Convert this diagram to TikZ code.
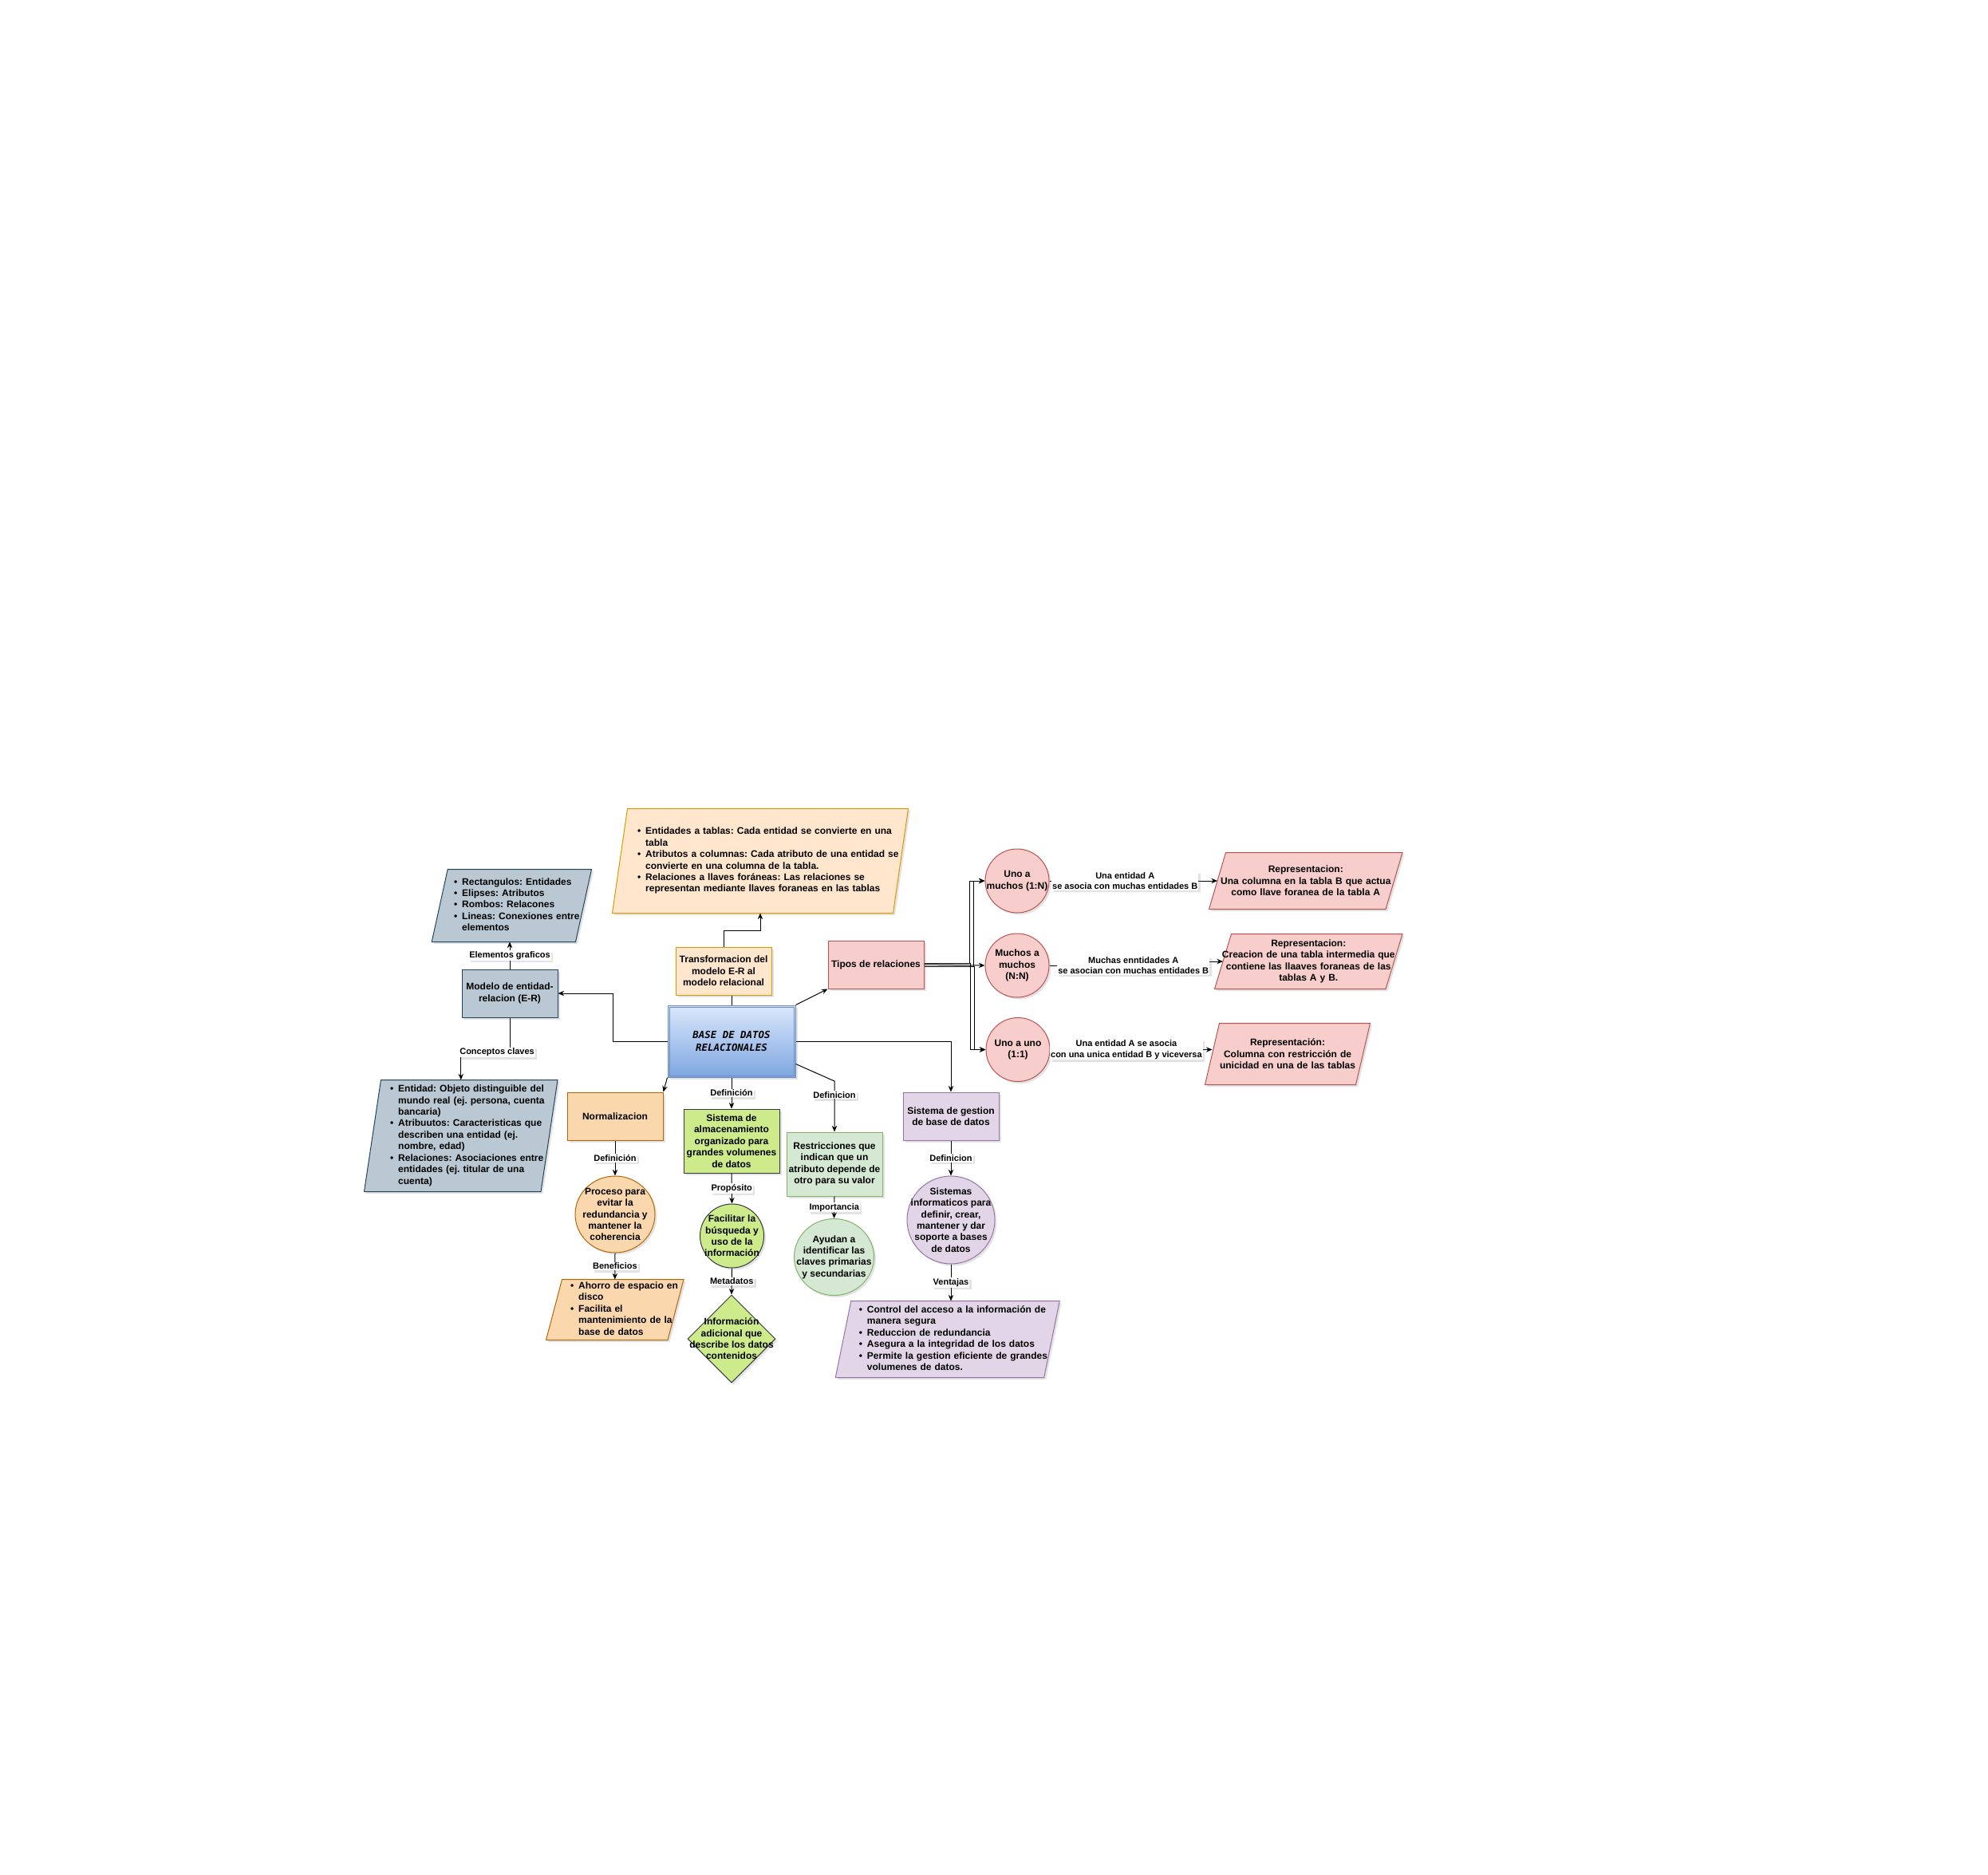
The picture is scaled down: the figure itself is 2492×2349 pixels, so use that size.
\documentclass[tikz,border=0pt]{standalone}
\usepackage{fontspec}
\setmainfont{Liberation Sans}
\newfontfamily\titlefont{DejaVu Sans Mono}
\usetikzlibrary{arrows.meta,shapes.geometric,shadows,backgrounds,calc}
\newlength\pxu
\setlength\pxu{0.03cm}
\definecolor{orgfill}{HTML}{FFE6CC}\definecolor{orgline}{HTML}{D79B00}
\definecolor{peachfill}{HTML}{FAD7AC}\definecolor{peachline}{HTML}{B46504}
\definecolor{grayfill}{HTML}{BAC8D3}\definecolor{grayline}{HTML}{23445D}
\definecolor{redfill}{HTML}{F8CECC}\definecolor{redline}{HTML}{B85450}
\definecolor{limefill}{HTML}{CDEB8B}\definecolor{limeline}{HTML}{36393D}
\definecolor{grnfill}{HTML}{D5E8D4}\definecolor{grnline}{HTML}{82B366}
\definecolor{purfill}{HTML}{E1D5E7}\definecolor{purline}{HTML}{9673A6}
\definecolor{mainA}{HTML}{DAE8FC}\definecolor{mainB}{HTML}{7EA6E0}\definecolor{mainline}{HTML}{6C8EBF}
\hyphenpenalty=10000
\frenchspacing
\begin{document}
\begin{tikzpicture}[x=1\pxu, y=-1\pxu]
    \tikzstyle{every node}=[font=\fontsize{10.24}{12.3}\selectfont\bfseries\frenchspacing, align=center];
    \tikzstyle{every path}=[line width=0.85pt];
    \tikzstyle{shad}=[drop shadow={opacity=0.22, shadow xshift=2.5\pxu, shadow yshift=-2.5\pxu}];
    \tikzstyle{box}=[rectangle, draw, minimum width=120\pxu, minimum height=60\pxu, inner sep=1\pxu, shad];
    \tikzstyle{oval}=[ellipse, draw, inner sep=-20\pxu, shad];
    \tikzstyle{para}=[rectangle, inner sep=0pt];
    \tikzstyle{reptext}=[rectangle, inner ysep=0pt, inner xsep=-20\pxu];
    \tikzstyle{lbl}=[fill=white, inner sep=1\pxu, font=\fontsize{9.39}{11.4}\selectfont\bfseries, shad];
    \tikzstyle{arr}=[-{Stealth[length=6.5pt,width=5.5pt]}];
    \tikzstyle{orgs}=[fill=orgfill, draw=orgline];
    \tikzstyle{peach}=[fill=peachfill, draw=peachline];
    \tikzstyle{grays}=[fill=grayfill, draw=grayline];
    \tikzstyle{reds}=[fill=redfill, draw=redline];
    \tikzstyle{limes}=[fill=limefill, draw=limeline];
    \tikzstyle{grns}=[fill=grnfill, draw=grnline];
    \tikzstyle{purs}=[fill=purfill, draw=purline];

    % centre
    \node[box, minimum width=160\pxu, minimum height=90\pxu, draw=mainline, top color=mainA, bottom color=mainB,
          font=\titlefont\fontsize{10.6}{13.4}\selectfont\bfseries\itshape] (main) at (917,1305) {BASE DE DATOS\\RELACIONALES};
    \draw[mainline] ($(main.north west)+(2.5,2.5)$) rectangle ($(main.south east)+(-2.5,-2.5)$);

    % left: modelo E-R
    \node[box, grays] (modelo) at (639,1245) {Modelo de entidad-\\relacion (E-R)};
    \node[para, minimum height=90\pxu, inner xsep=17.3\pxu, text width=144.7\pxu, align=left] (elem) at (641.35,1135)
        {\begin{tabular}{@{}l@{\hspace{6\pxu}}l@{}}\textbullet & Rectangulos: Entidades\\ \textbullet & Elipses: Atributos\\
         \textbullet & Rombos: Relacones\\ \textbullet & Lineas: Conexiones entre\\ & elementos\end{tabular}};
    \node[para, minimum height=139\pxu, inner xsep=21.5\pxu, text width=177.5\pxu, align=left] (concept) at (577.75,1423.5)
        {\begin{tabular}{@{}l@{\hspace{6\pxu}}l@{}}\textbullet & Entidad: Objeto distinguible del\\ & mundo real (ej. persona, cuenta\\ & bancaria)\\
         \textbullet & Atribuutos: Caracteristicas que\\ & describen una entidad (ej.\\ & nombre, edad)\\
         \textbullet & Relaciones: Asociaciones entre\\ & entidades (ej. titular de una\\ & cuenta)\end{tabular}};

    % top: transformacion
    \node[box, orgs] (trans) at (907,1217) {Transformacion del\\modelo E-R al\\modelo relacional};
    \node[para, minimum height=130\pxu, inner xsep=21.5\pxu, text width=308\pxu, align=left] (translist) at (953,1079)
        {\begin{tabular}{@{}l@{\hspace{6\pxu}}l@{}}\textbullet & Entidades a tablas: Cada entidad se convierte en una\\ & tabla\\
         \textbullet & Atributos a columnas: Cada atributo de una entidad se\\ & convierte en una columna de la tabla.\\
         \textbullet & Relaciones a llaves for\'aneas: Las relaciones se\\ & representan mediante llaves foraneas en las tablas\end{tabular}};

    % bottom
    \node[box, peach] (normal) at (771,1399) {Normalizacion};
    \node[oval, peach, minimum width=100\pxu, minimum height=96\pxu] (proceso) at (771,1522) {Proceso para\\evitar la\\redundancia y\\mantener la\\coherencia};
    \node[para, minimum height=75\pxu, inner xsep=20\pxu, text width=111.5\pxu, align=left] (ahorro) at (770.75,1641.5)
        {\begin{tabular}{@{}l@{\hspace{6\pxu}}l@{}}\textbullet & Ahorro de espacio en\\ & disco\\
         \textbullet & Facilita el\\ & mantenimiento de la\\ & base de datos\end{tabular}};
    \node[box, limes, minimum height=80\pxu] (almac) at (917,1430) {Sistema de\\almacenamiento\\organizado para\\grandes volumenes\\de datos};
    \node[oval, limes, minimum size=80\pxu] (facil) at (917.5,1549) {Facilitar la\\b\'usqueda y\\uso de la\\informaci\'on};
    \node[diamond, draw, limes, inner sep=-20\pxu, minimum width=110\pxu, minimum height=110\pxu, shad] (meta) at (917,1678)
        {Informaci\'on\\adicional que\\describe los datos\\contenidos};
    \node[box, grns, minimum height=80\pxu] (restr) at (1046,1459) {Restricciones que\\indican que un\\atributo depende de\\otro para su valor};
    \node[oval, grns, minimum width=100\pxu, minimum height=96\pxu] (ayudan) at (1045.5,1575.5) {Ayudan a\\identificar las\\claves primarias\\y secundarias};
    \node[box, purs] (sgbd) at (1192,1399) {Sistema de gestion\\de base de datos};
    \node[oval, purs, minimum size=110\pxu] (sistemas) at (1192,1529) {Sistemas\\informaticos para\\definir, crear,\\mantener y dar\\soporte a bases\\de datos};
    \node[para, minimum height=95\pxu, inner xsep=19.2\pxu, text width=222\pxu, align=left] (ventajas) at (1187.75,1678.5)
        {\begin{tabular}{@{}l@{\hspace{6\pxu}}l@{}}\textbullet & Control del acceso a la informaci\'on de\\ & manera segura\\
         \textbullet & Reduccion de redundancia\\ \textbullet & Asegura a la integridad de los datos\\
         \textbullet & Permite la gestion eficiente de grandes\\ & volumenes de datos.\end{tabular}};

    % right: tipos de relaciones
    \node[box, reds] (tipos) at (1098,1209) {Tipos de relaciones};
    \node[oval, reds, minimum size=80\pxu] (umuchos) at (1275,1104) {Uno a\\muchos (1:N)};
    \node[oval, reds, minimum size=80\pxu] (mmuchos) at (1275,1210) {Muchos a\\muchos\\(N:N)};
    \node[oval, reds, minimum size=80\pxu] (uuno) at (1276,1315.5) {Uno a uno\\(1:1)};
    \node[reptext, minimum height=70\pxu, text width=260.5\pxu] (rep1) at (1636.75,1104) {Representacion:\\Una columna en la tabla B que actua\\como llave foranea de la tabla A};
    \node[reptext, minimum height=68\pxu, text width=253.5\pxu] (rep2) at (1640.25,1205) {Representacion:\\Creacion de una tabla intermedia que\\contiene las llaaves foraneas de las\\tablas A y B.};
    \node[reptext, minimum height=76\pxu, text width=228\pxu] (rep3) at (1614,1321) {Representaci\'on:\\Columna con restricci\'on de\\unicidad en una de las tablas};

    % connectors
    \draw[arr] (main.west) -- (768,1305) |- (modelo.east);
    \draw[arr] (modelo.north) -- node[lbl]{Elementos graficos} (modelo.north |- elem.south);
    \draw[arr] (modelo.south) -- (modelo.south |- 0,1319) -- node[lbl, pos=0.26]{Conceptos claves} (concept.north |- 0,1319) -- (concept.north);
    \draw (main.north) -- (main.north |- trans.south);
    \draw[arr] (trans.north) -- (trans.north |- 0,1166) -| (translist.south);
    \draw[arr] (main.north east) -- (tipos.south west);
    \draw[arr] (main.south west) -- (normal.north east);
    \draw[arr] (main.south) -- node[lbl]{Definici\'on} (almac.north);
    \draw[arr] ($(main.south east)+(0,-17)$) -- (restr.north |- 0,1355) -- node[lbl, pos=0.27]{Definicion} (restr.north);
    \draw[arr] (main.east) -| (sgbd.north);
    \draw[arr] (normal.south) -- node[lbl]{Definici\'on} (proceso.north);
    \draw[arr] (proceso.south) -- node[lbl]{Beneficios} (ahorro.north);
    \draw[arr] (almac.south) -- node[lbl]{Prop\'osito} (facil.north);
    \draw[arr] (facil.south) -- node[lbl]{Metadatos} (meta.north);
    \draw[arr] (restr.south) -- node[lbl]{Importancia} (ayudan.north);
    \draw[arr] (sgbd.south) -- node[lbl]{Definicion} (sistemas.north);
    \draw[arr] (sistemas.south) -- node[lbl]{Ventajas} (ventajas.north -| sistemas.south);
    \foreach \t in {umuchos, uuno} {
        \draw[arr] ($(tipos.east)+(0,-2)$) -| ($(\t.west)+(-19,0)$) -- (\t.west);
        \draw[arr] ($(tipos.east)+(0,2)$) -| ($(\t.west)+(-14,0)$) -- (\t.west);
    }
    \draw[arr] (tipos.east) -- (mmuchos.west);
    \draw[arr] (umuchos.east) -- node[lbl, pos=0.45]{Una entidad A\\se asocia con muchas entidades B} (rep1.west);
    \draw[arr] (mmuchos.east) -| node[lbl, pos=0.265]{Muchas enntidades A\\se asocian con muchas entidades B} ($(rep2.west)+(-19,0)$) -- (rep2.west);
    \draw[arr] (uuno.east) -- node[lbl, pos=0.47]{Una entidad A se asocia\\con una unica entidad B y viceversa} (rep3.west |- uuno.east);

    % page and parallelograms
    \begin{scope}[on background layer]
        \path[fill=white, use as bounding box] (0,0) rectangle (2492,2349);
        \foreach \n/\o/\f/\d in {translist/9.5/orgfill/orgline, elem/10/grayfill/grayline, concept/10.5/grayfill/grayline,
                                 ahorro/10/peachfill/peachline, ventajas/9.75/purfill/purline, rep1/10.5/redfill/redline,
                                 rep2/10.5/redfill/redline, rep3/9/redfill/redline}
            \draw[fill=\f, draw=\d, shad] ($(\n.north west)+(\o,0)$) -- ($(\n.north east)+(\o,0)$)
                -- ($(\n.south east)-(\o,0)$) -- ($(\n.south west)-(\o,0)$) -- cycle;
    \end{scope}
\end{tikzpicture}
\end{document}
